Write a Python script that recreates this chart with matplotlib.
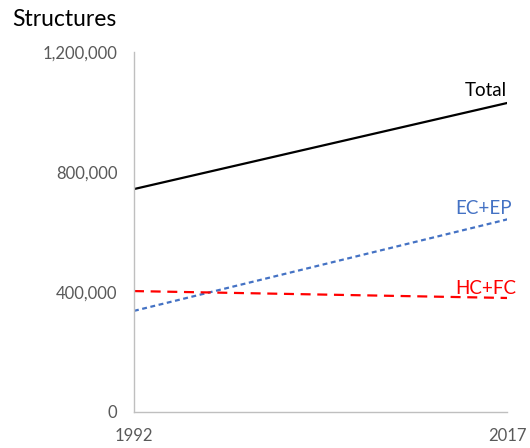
import matplotlib
matplotlib.use("Agg")
import matplotlib.pyplot as plt
from matplotlib.ticker import FuncFormatter

years = [1992, 2017]
total = [743000, 1030000]
ec_ep = [337000, 642000]
hc_fc = [403000, 380000]

y_ticks = [0, 400000, 800000, 1200000]

plt.rcParams['font.family'] = ['Lato', 'DejaVu Sans']

fig = plt.figure(figsize=(5.30, 4.48), dpi=100)
ax = fig.add_axes([0.2528, 0.0804, 0.957 - 0.2528, 0.884 - 0.0804])

ax.plot(years, total, color='black', lw=1.6, solid_capstyle='butt')
ax.plot(years, ec_ep, color='#4472C4', lw=1.6, dashes=(2.2, 1.6))
ax.plot(years, hc_fc, color='#FF0000', lw=1.6, dashes=(4.5, 3.0))

ax.set_xlim(1992, 2017)
ax.set_ylim(0, 1200000)
ax.set_xticks(years)
ax.set_yticks(y_ticks)
ax.yaxis.set_major_formatter(FuncFormatter(lambda v, p: f"{int(v):,}"))

ax.tick_params(length=0, colors='#595959', labelsize=12)
ax.tick_params(axis='y', pad=12)
ax.tick_params(axis='x', pad=11.5)
for s in ['top', 'right']:
    ax.spines[s].set_visible(False)
for s in ['left', 'bottom']:
    ax.spines[s].set_color('#BFBFBF')
    ax.spines[s].set_linewidth(1.0)

ax.text(2017, total[1] + 12000, 'Total', ha='right', va='bottom', fontsize=13.5, color='black')
ax.text(2017.3, ec_ep[1] + 8000, 'EC+EP', ha='right', va='bottom', fontsize=13.5, color='#4472C4')
ax.text(2017.6, hc_fc[1] + 3000, 'HC+FC', ha='right', va='bottom', fontsize=13.5, color='#FF0000')

fig.text(12 / 530, 1 - 20 / 448, 'Structures', ha='left', va='center', fontsize=16.5, color='black')

fig.savefig('out.png', dpi=100)
